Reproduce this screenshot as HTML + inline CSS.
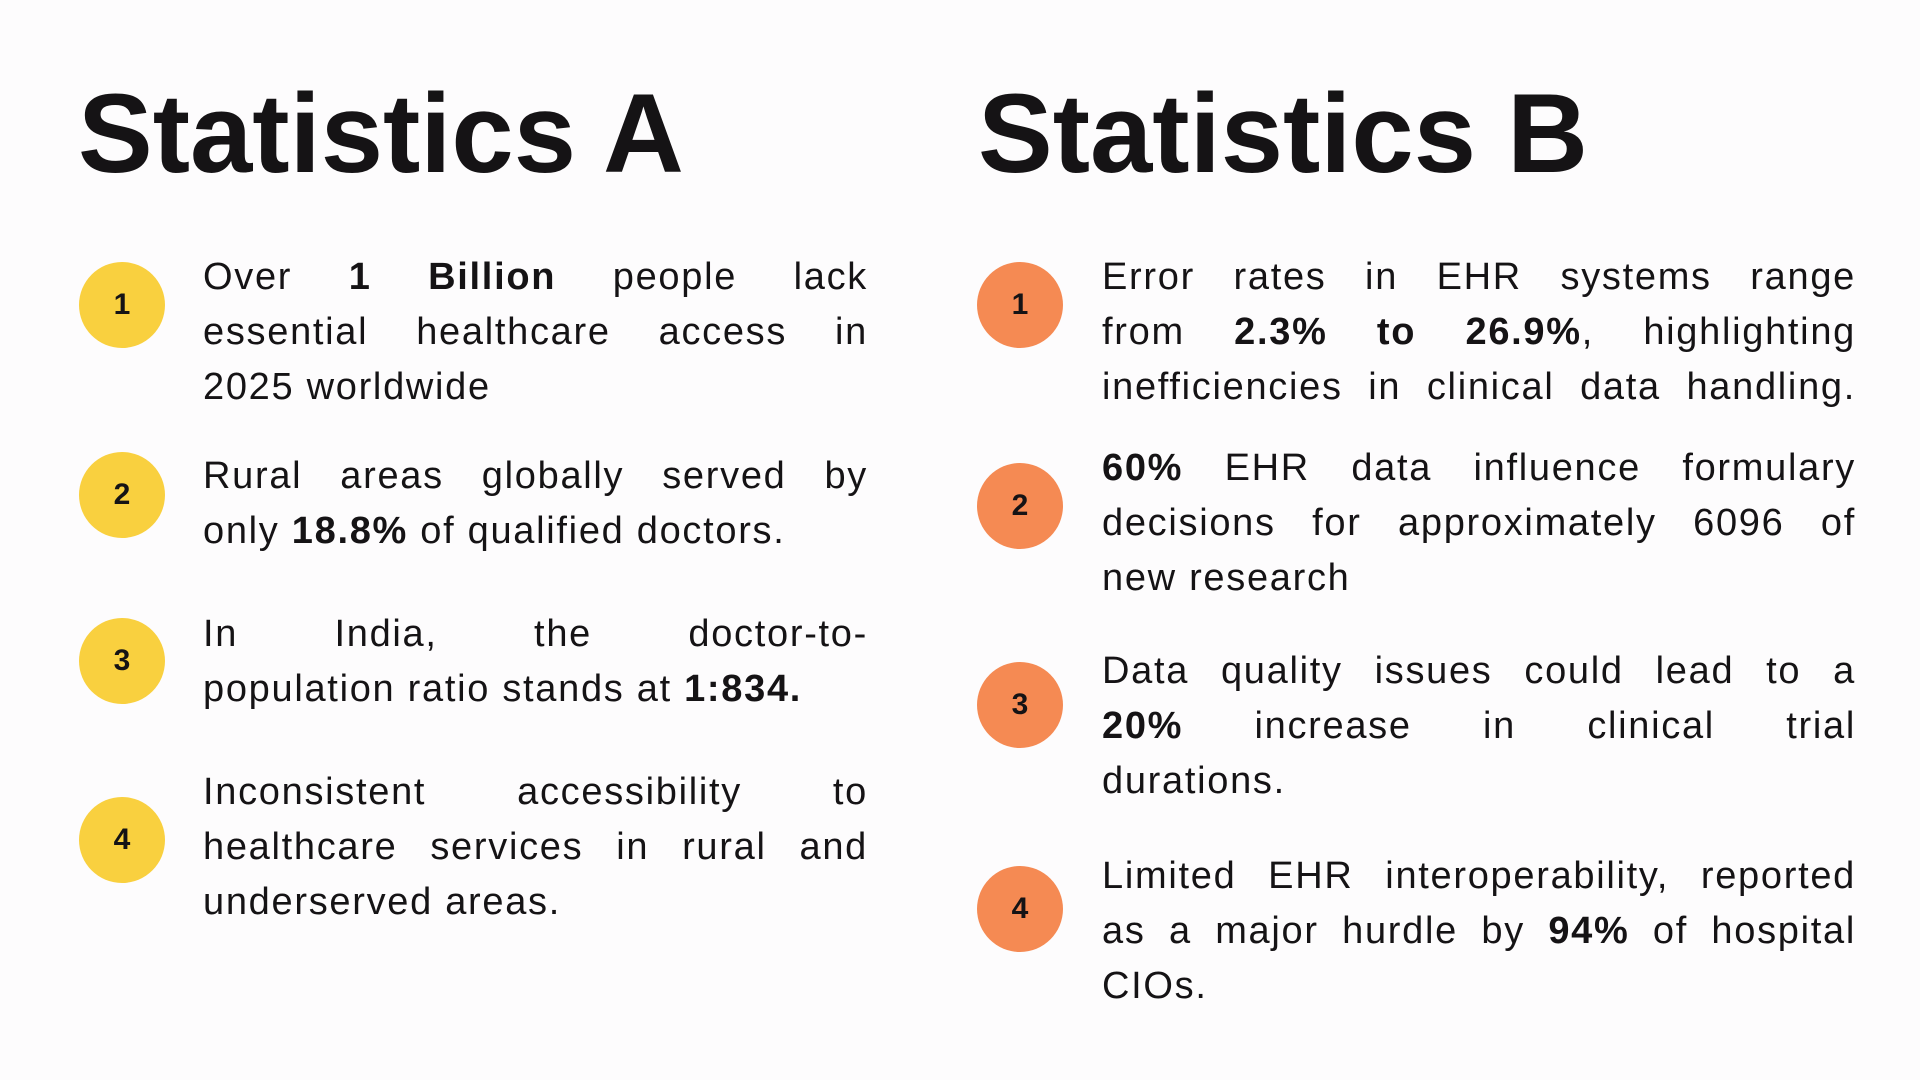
<!DOCTYPE html>
<html><head><meta charset="utf-8"><style>
body{margin:0;width:1920px;height:1080px;background:#fdfcfd;font-family:"Liberation Sans",sans-serif;color:#151315;position:relative;overflow:hidden}
h1{position:absolute;margin:0;font-size:112px;font-weight:bold;line-height:1;top:78px;letter-spacing:0px}
.c{position:absolute;width:86px;height:86px;border-radius:50%;display:flex;align-items:center;justify-content:center;font-weight:bold;font-size:30px}
.y{background:#f9d03f}.o{background:#f58a53}
.blk{position:absolute;font-size:38px;line-height:55px;letter-spacing:1.7px}
.blk div{white-space:nowrap;text-align:justify;text-align-last:justify}
.blk div.l{text-align-last:left}
b{font-weight:bold}
</style></head><body>
<h1 style="left:78px">Statistics A</h1>
<h1 style="left:978px">Statistics B</h1>

<div class="c y" style="left:79px;top:262px">1</div>
<div class="c y" style="left:79px;top:452px">2</div>
<div class="c y" style="left:79px;top:618px">3</div>
<div class="c y" style="left:79px;top:797px">4</div>
<div class="c o" style="left:977px;top:262px">1</div>
<div class="c o" style="left:977px;top:463px">2</div>
<div class="c o" style="left:977px;top:662px">3</div>
<div class="c o" style="left:977px;top:866px">4</div>

<div class="blk" style="left:203px;width:665px;top:250px">
<div>Over <b>1 Billion</b> people lack</div><div>essential healthcare access in</div><div class="l">2025 worldwide</div></div>
<div class="blk" style="left:203px;width:665px;top:449px">
<div>Rural areas globally served by</div><div class="l">only <b>18.8%</b> of qualified doctors.</div></div>
<div class="blk" style="left:203px;width:665px;top:607px">
<div>In India, the doctor-to-</div><div class="l">population ratio stands at <b>1:834.</b></div></div>
<div class="blk" style="left:203px;width:665px;top:765px">
<div>Inconsistent accessibility to</div><div>healthcare services in rural and</div><div class="l">underserved areas.</div></div>

<div class="blk" style="left:1102px;width:754px;top:250px">
<div>Error rates in EHR systems range</div><div>from <b>2.3% to 26.9%</b>, highlighting</div><div>inefficiencies in clinical data handling.</div></div>
<div class="blk" style="left:1102px;width:754px;top:441px">
<div><b>60%</b> EHR data influence formulary</div><div>decisions for approximately 6096 of</div><div class="l">new research</div></div>
<div class="blk" style="left:1102px;width:754px;top:644px">
<div>Data quality issues could lead to a</div><div><b>20%</b> increase in clinical trial</div><div class="l">durations.</div></div>
<div class="blk" style="left:1102px;width:754px;top:849px">
<div>Limited EHR interoperability, reported</div><div>as a major hurdle by <b>94%</b> of hospital</div><div class="l">CIOs.</div></div>
</body></html>
